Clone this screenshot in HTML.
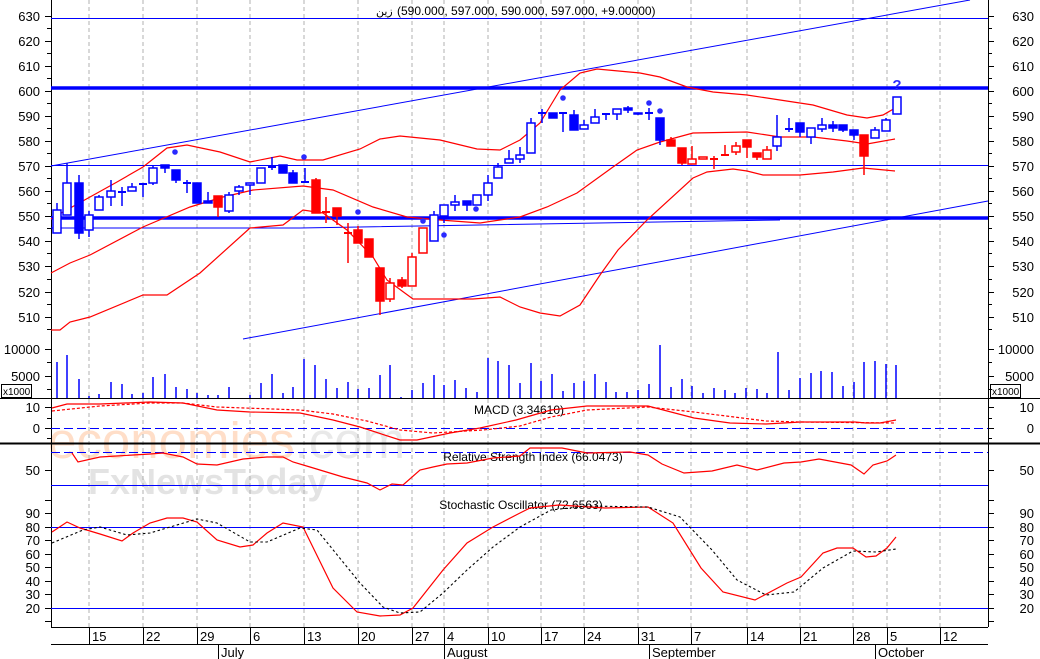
<!DOCTYPE html>
<html><head><meta charset="utf-8"><style>
html,body{margin:0;padding:0;background:#fff;}
svg{display:block;font-family:"Liberation Sans","DejaVu Sans",sans-serif;}
</style></head><body>
<svg width="1040" height="659" viewBox="0 0 1040 659" xmlns="http://www.w3.org/2000/svg">
<rect width="1040" height="659" fill="#fff"/>
<!-- watermark -->
<text x="48" y="458" font-size="51" fill="#ffd9bf" font-family="Liberation Sans,sans-serif" opacity="0.85">economies<tspan fill="#e6e6e6">.com</tspan></text>
<text x="88" y="494" font-size="36" fill="#e3e3e3" font-weight="bold">FxNewsToday</text>
<!-- grid -->
<g stroke="#b0b0b0" stroke-width="1" stroke-dasharray="4,3">
<path d="M89 0V627M143 0V627M197 0V627M250 0V627M304 0V627M358 0V627M412 0V627M444 0V627M488 0V627M541 0V627M584 0V627M638 0V627M691 0V627M747 0V627M800 0V627M853 0V627M887 0V627M940 0V627"/>
</g>
<!-- frame -->
<g stroke="#000" stroke-width="1" fill="none">
<path d="M51.5 0V627M988.5 0V627"/>
<path d="M0 398.5H1040"/>
<path d="M0 443.5H1040" stroke-width="2"/>
<path d="M51 627.5H988M51 644.5H988"/>
<path d="M89.5 627V644M143.5 627V644M197.5 627V644M250.5 627V644M304.5 627V644M358.5 627V644M412.5 627V644M444.5 627V659M488.5 627V644M541.5 627V644M584.5 627V644M638.5 627V644M691.5 627V644M747.5 627V644M800.5 627V644M853.5 627V644M887.5 627V644M940.5 627V644M218.5 644V659M649.5 644V659M875.5 644V659"/>
<path d="M45 16.5H51M47 28.5H51M45 41.5H51M47 53.5H51M45 66.5H51M47 78.5H51M45 91.5H51M47 103.5H51M45 116.5H51M47 128.5H51M45 141.5H51M47 153.5H51M45 166.5H51M47 178.5H51M45 191.5H51M47 203.5H51M45 216.5H51M47 228.5H51M45 241.5H51M47 253.5H51M45 266.5H51M47 279.5H51M45 292.5H51M47 304.5H51M45 317.5H51M47 329.5H51"/>
<path d="M988 16.5H994M988 28.5H992M988 41.5H994M988 53.5H992M988 66.5H994M988 78.5H992M988 91.5H994M988 103.5H992M988 116.5H994M988 128.5H992M988 141.5H994M988 153.5H992M988 166.5H994M988 178.5H992M988 191.5H994M988 203.5H992M988 216.5H994M988 228.5H992M988 241.5H994M988 253.5H992M988 266.5H994M988 279.5H992M988 292.5H994M988 304.5H992M988 317.5H994M988 329.5H992"/>
<path d="M45 349.5H51M47 362.5H51M45 376.5H51M47 389.5H51M988 349.5H994M988 362.5H992M988 376.5H994M988 389.5H992"/>
<path d="M45 407.5H51M47 418.5H51M45 428.5H51M47 438.5H51M988 407.5H994M988 418.5H992M988 428.5H994M988 438.5H992"/>
<path d="M45 470.5H51M988 470.5H994"/>
<path d="M45 500.5H51M45 513.5H51M45 527.5H51M45 540.5H51M45 554.5H51M45 567.5H51M45 581.5H51M45 594.5H51M45 608.5H51M45 621.5H51M988 500.5H994M988 513.5H994M988 527.5H994M988 540.5H994M988 554.5H994M988 567.5H994M988 581.5H994M988 594.5H994M988 608.5H994M988 621.5H994"/>
</g>
<rect x="1.5" y="384.5" width="30" height="13" fill="none" stroke="#000"/>
<rect x="990.5" y="384.5" width="30" height="13" fill="none" stroke="#000"/>
<!-- labels -->
<g font-size="13" fill="#000" text-anchor="end">
<text x="40" y="21">630</text><text x="40" y="46">620</text><text x="40" y="71">610</text><text x="40" y="96">600</text><text x="40" y="121">590</text><text x="40" y="146">580</text><text x="40" y="171">570</text><text x="40" y="196">560</text><text x="40" y="221">550</text><text x="40" y="246">540</text><text x="40" y="271">530</text><text x="40" y="297">520</text><text x="40" y="322">510</text>
<text x="1034" y="21">630</text><text x="1034" y="46">620</text><text x="1034" y="71">610</text><text x="1034" y="96">600</text><text x="1034" y="121">590</text><text x="1034" y="146">580</text><text x="1034" y="171">570</text><text x="1034" y="196">560</text><text x="1034" y="221">550</text><text x="1034" y="246">540</text><text x="1034" y="271">530</text><text x="1034" y="297">520</text><text x="1034" y="322">510</text>
<text x="40" y="354">10000</text><text x="40" y="381">5000</text>
<text x="1034" y="354">10000</text><text x="1034" y="381">5000</text>
<text x="40" y="412">10</text><text x="40" y="433">0</text>
<text x="1034" y="412">10</text><text x="1034" y="433">0</text>
<text x="40" y="475">50</text><text x="1034" y="475">50</text>
<text x="40" y="518">90</text><text x="40" y="532">80</text><text x="40" y="545">70</text><text x="40" y="559">60</text><text x="40" y="572">50</text><text x="40" y="586">40</text><text x="40" y="599">30</text><text x="40" y="613">20</text>
<text x="1034" y="518">90</text><text x="1034" y="532">80</text><text x="1034" y="545">70</text><text x="1034" y="559">60</text><text x="1034" y="572">50</text><text x="1034" y="586">40</text><text x="1034" y="599">30</text><text x="1034" y="613">20</text>
</g>
<g font-size="10" fill="#000"><text x="3" y="395">x1000</text><text x="992" y="395">x1000</text></g>
<g font-size="13" fill="#000">
<text x="92" y="641">15</text><text x="146" y="641">22</text><text x="200" y="641">29</text><text x="253" y="641">6</text><text x="307" y="641">13</text><text x="361" y="641">20</text><text x="415" y="641">27</text><text x="447" y="641">4</text><text x="491" y="641">10</text><text x="544" y="641">17</text><text x="587" y="641">24</text><text x="641" y="641">31</text><text x="694" y="641">7</text><text x="750" y="641">14</text><text x="803" y="641">21</text><text x="856" y="641">28</text><text x="890" y="641">5</text><text x="943" y="641">12</text>
<text x="221" y="657">July</text><text x="447" y="657">August</text><text x="652" y="657">September</text><text x="878" y="657">October</text>
</g>
<g font-size="12" fill="#000">
<text x="376" y="15" font-family="DejaVu Sans,sans-serif" font-size="11">زين</text>
<text x="397" y="15">(590.000, 597.000, 590.000, 597.000, +9.00000)</text>
</g>
<g font-size="12" fill="#000" text-anchor="middle">
<text x="519" y="414">MACD (3.34610)</text>
<text x="533" y="461">Relative Strength Index (66.0473)</text>
<text x="521" y="509">Stochastic Oscillator (72.6563)</text>
</g>
<!-- horizontal lines -->
<g stroke="#0000ff" fill="none">
<path d="M51 18.5H988M51 165.5H988" stroke-width="1"/>
<path d="M51 88H988M51 218H988" stroke-width="3.5"/>
<path d="M51 228L300 228L780 220" stroke-width="1"/>
<path d="M51 166L970 0" stroke-width="1"/>
<path d="M243 339L988 201" stroke-width="1"/>
<path d="M51 428.5H988" stroke-dasharray="9,4"/>
<path d="M51 452.5H988" stroke-dasharray="9,4"/>
<path d="M51 485.5H988M51 527.5H988M51 608.5H988"/>
</g>
<!-- bollinger -->
<g stroke="#ff0000" fill="none" stroke-width="1.2">
<polyline points="51,219 63,212 90,197 117,182 143,167 167,148 187,145 220,152 250,162 280,156 297,160 323,160 360,149 380,139 400,136 440,140 477,149 500,150 520,140 540,123 560,90 580,73 597,69 640,73 660,77 687,87 713,92 747,95 780,100 813,105 847,115 867,118 883,115 897,107"/>
<polyline points="51,273 70,263 90,255 143,227 190,207 223,197 253,190 303,186 333,190 373,207 407,217 440,220 480,223 520,217 547,207 577,193 613,167 637,150 660,142 693,133 747,132 780,137 813,137 847,141 867,144 895,139"/>
<polyline points="51,330 60,330 70,322 90,317 143,295 167,295 200,273 250,228 283,225 303,210 323,213 347,230 373,257 387,280 413,299 473,299 500,297 520,307 540,313 560,316 580,305 600,275 618,250 647,220 693,178 707,172 733,169 747,171 763,175 800,175 833,172 863,168 895,171"/>
</g>
<!-- dots -->
<g fill="#2a2aff">
<circle cx="175" cy="152" r="2.8"/><circle cx="304" cy="157" r="2.8"/><circle cx="358" cy="212" r="2.8"/><circle cx="423" cy="221" r="2.8"/><circle cx="444" cy="235" r="2.8"/><circle cx="476" cy="209" r="2.8"/><circle cx="563" cy="98" r="2.8"/><circle cx="649" cy="103" r="2.8"/><circle cx="660" cy="111" r="2.8"/>
</g>
<text x="897" y="90" font-size="15" font-weight="bold" fill="#2a2aff" text-anchor="middle">?</text>
<!-- candles -->
<g stroke-width="1.5">
<g stroke="#0000ff" fill="#fff">
<path d="M57 203V233M67 163V215M79 175V239M89 211V237M99 195V210M111 180V206M122 187V206M132 183V191M143 184V197M153 166V185M165 165V173M176 170V183M187 180V193M197 183V203M208 192V203M229 192V213M239 185V195M250 183V195M261 168V183M272 157V170M283 165V173M293 170V183M305 168V183M434 211V241M444 205V223M455 195V211M467 201V211M477 195V205M488 175V201M498 163V178M509 150V163M520 147V163M531 118V153M542 109V123M553 113V118M563 113V132M574 110V130M584 120V129M595 109V123M606 113V120M617 109V120M628 106V113M638 113V115M649 108V120M660 118V145M777 115V151M789 118V132M800 123V137M811 128V144M822 118V132M833 121V132M843 125V132M854 130V140M875 127V138M886 118V131M897 97V114"/>
<path d="M118 192H126M139 184H147M183 183H191M268 167H276M301 182H309M538 113H546M559 113H567M602 114H610M645 113H653M785 129H793" stroke-width="2"/>
<rect x="53" y="210" width="8" height="23"/><rect x="63" y="183" width="8" height="32"/><rect x="85" y="215" width="8" height="15"/><rect x="95" y="197" width="8" height="13"/><rect x="107" y="191" width="8" height="6"/><rect x="128" y="187" width="8" height="4"/><rect x="149" y="168" width="8" height="15"/><rect x="225" y="195" width="8" height="16"/><rect x="235" y="187" width="8" height="4"/><rect x="246" y="183" width="8" height="2"/><rect x="257" y="168" width="8" height="15"/>
<rect x="430" y="215" width="8" height="26"/><rect x="440" y="205" width="8" height="11"/><rect x="451" y="202" width="8" height="3"/><rect x="473" y="195" width="8" height="10"/><rect x="484" y="183" width="8" height="12"/><rect x="494" y="167" width="8" height="11"/><rect x="505" y="159" width="8" height="4"/><rect x="516" y="155" width="8" height="4"/><rect x="527" y="123" width="8" height="30"/><rect x="580" y="125" width="8" height="4"/><rect x="591" y="117" width="8" height="6"/><rect x="613" y="109" width="8" height="5"/>
<rect x="773" y="137" width="8" height="9"/><rect x="807" y="128" width="8" height="9"/><rect x="818" y="125" width="8" height="4"/><rect x="871" y="130" width="8" height="8"/><rect x="882" y="120" width="8" height="11"/><rect x="893" y="97" width="8" height="17"/>
</g>
<g fill="#0000ff" stroke="#0000ff">
<rect x="75" y="183" width="8" height="50"/><rect x="161" y="165" width="8" height="3"/><rect x="172" y="170" width="8" height="10"/><rect x="193" y="183" width="8" height="20"/><rect x="204" y="201" width="8" height="2"/><rect x="279" y="165" width="8" height="8"/><rect x="289" y="173" width="8" height="10"/>
<rect x="463" y="201" width="8" height="4"/><rect x="549" y="113" width="8" height="5"/><rect x="570" y="115" width="8" height="15"/><rect x="624" y="108" width="8" height="2"/><rect x="634" y="113" width="8" height="1"/><rect x="656" y="118" width="8" height="22"/>
<rect x="796" y="123" width="8" height="9"/><rect x="829" y="125" width="8" height="3"/><rect x="839" y="125" width="8" height="5"/><rect x="850" y="130" width="8" height="5"/>
</g>
<g stroke="#ff0000" fill="#fff">
<path d="M218 196V217M316 178V213M326 197V223M337 208V225M348 223V263M358 226V243M369 239V257M380 268V315M390 278V302M402 277V288M412 253V286M423 228V253M671 137V146M682 148V165M692 146V164M703 157V159M714 156V169M725 145V155M736 142V155M747 140V158M757 153V160M767 146V159M864 135V175"/>
<path d="M322 212H330M344 233H352M710 159H718M721 155H729" stroke-width="2"/>
<rect x="386" y="283" width="8" height="16"/><rect x="408" y="257" width="8" height="29"/><rect x="419" y="228" width="8" height="25"/><rect x="688" y="159" width="8" height="5"/><rect x="699" y="157" width="8" height="2"/><rect x="732" y="146" width="8" height="6"/><rect x="763" y="150" width="8" height="9"/>
</g>
<g fill="#ff0000" stroke="#ff0000">
<rect x="214" y="196" width="8" height="11"/><rect x="312" y="180" width="8" height="33"/><rect x="333" y="208" width="8" height="8"/><rect x="354" y="230" width="8" height="13"/><rect x="365" y="239" width="8" height="18"/><rect x="376" y="268" width="8" height="33"/><rect x="398" y="280" width="8" height="6"/>
<rect x="667" y="140" width="8" height="6"/><rect x="678" y="148" width="8" height="15"/><rect x="743" y="140" width="8" height="7"/><rect x="753" y="153" width="8" height="4"/><rect x="860" y="135" width="8" height="21"/>
</g>
</g>
<!-- volume -->
<path stroke="#0000ff" stroke-width="1.5" fill="none" d="M57 398V362M67 398V355M79 398V379M89 398V396M99 398V394M111 398V382M122 398V384M132 398V394M143 398V393M153 398V377M165 398V374M176 398V387M187 398V389M197 398V393M208 398V395M218 398V395M229 398V387M250 398V395M261 398V383M272 398V374M283 398V393M293 398V387M304 398V359M315 398V365M326 398V379M337 398V388M348 398V382M358 398V389M369 398V388M380 398V375M390 398V365M401 398V397M412 398V390M423 398V383M434 398V375M444 398V385M455 398V380M466 398V388M477 398V392M488 398V358M498 398V361M509 398V365M520 398V383M531 398V363M541 398V381M552 398V374M563 398V391M574 398V383M584 398V381M595 398V374M606 398V382M616 398V392M627 398V392M638 398V390M649 398V384M660 398V345M671 398V387M682 398V379M692 398V386M703 398V393M714 398V388M725 398V390M735 398V393M746 398V388M757 398V389M767 398V393M778 398V352M789 398V390M800 398V378M811 398V373M821 398V371M832 398V372M843 398V386M854 398V382M864 398V362M875 398V361M886 398V364M896 398V365"/>
<!-- MACD -->
<polyline fill="none" stroke="#ff0000" stroke-width="1.2" points="52,408 67,404 100,404 150,402 183,403 217,410 250,412 300,413 333,420 360,427 400,440 417,440 450,433 480,428 516,420 551,410 587,406 648,406 694,418 730,423 766,424 801,422 855,422 866,423 880,423 896,420"/>
<polyline fill="none" stroke="#ff0000" stroke-width="1.2" stroke-dasharray="3,2" points="52,411 100,406 150,403 183,403 217,407 300,410 333,414 367,421 400,430 433,433 483,430 520,426 551,417 587,410 648,407 694,412 766,421 801,422 896,423"/>
<!-- RSI -->
<polyline fill="none" stroke="#ff0000" stroke-width="1.2" points="72,453 78,462 100,457 150,454 163,453 183,457 197,464 217,465 243,459 267,457 283,457 293,462 310,467 343,477 367,483 380,490 392,484 403,485 420,470 433,467 447,464 467,463 493,458 520,456 530,448 562,448 587,453 630,452 648,455 662,464 684,473 712,471 737,465 757,470 784,463 801,462 819,459 851,465 864,474 873,465 887,461 896,455"/>
<!-- Stoch -->
<polyline fill="none" stroke="#ff0000" stroke-width="1.2" points="52,532 67,522 80,528 100,534 122,541 133,533 150,523 167,518 183,518 197,522 217,540 240,547 253,545 267,533 283,523 303,527 333,588 357,612 380,616 400,615 413,608 443,570 467,543 493,527 520,513 530,508 559,505 605,508 648,507 673,523 701,568 723,592 755,600 787,583 801,577 823,553 837,548 853,548 866,557 876,556 887,548 896,537"/>
<polyline fill="none" stroke="#000" stroke-width="1.1" stroke-dasharray="2.5,2.5" points="52,543 83,530 100,527 127,535 150,533 197,519 217,523 250,542 267,542 300,528 317,530 360,583 383,607 400,613 420,612 443,593 467,570 493,547 520,527 551,510 587,506 648,507 680,517 712,550 737,580 766,595 794,592 823,568 853,551 876,552 896,549"/>
</svg>
</body></html>
